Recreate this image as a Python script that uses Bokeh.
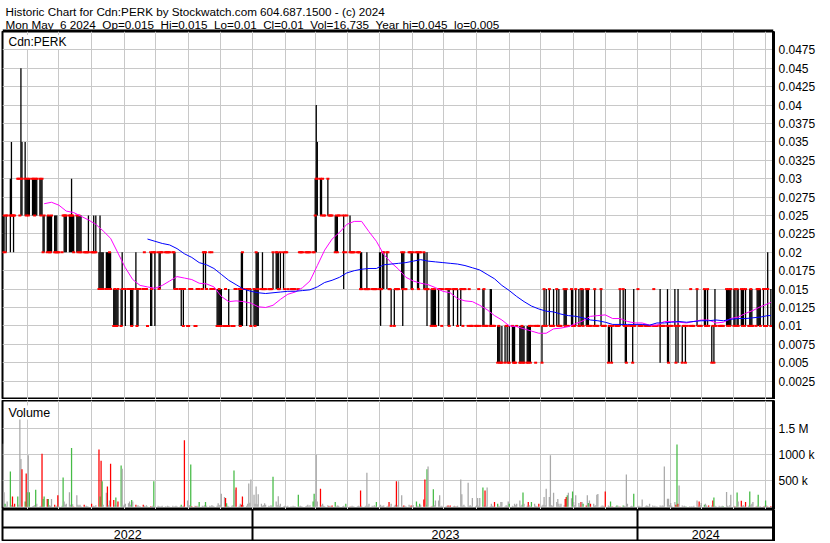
import pandas as pd
from bokeh.plotting import figure
from bokeh.layouts import column
from bokeh.models import (Range1d, FixedTicker, CustomJSTickFormatter, Label, ColumnDataSource, Span,
                          BoxAnnotation)
from bokeh.core.properties import value
from bokeh.embed import file_html
from bokeh.resources import INLINE

# ---------------- data ----------------
FIRST_DAY = "2022-05-09"
LAST_DAY = "2024-05-06"
VIEW_START = "2022-05-08 12:45"
VIEW_END = "2024-05-08 12:00"
PRICE_UNIT = 0.005   # price tokens are in half-cent levels: "lhc" = low, high, close ; one digit = flat day

price_weeks = [
    "454 455 4 455 5", "465 575 5 455 5", "6 6 5 596 576", "576 565 566 565 566", "566 566 565 566 566",
    "566 565 566 454 455", "454 455 454 454 455", "454 454 454 4 4", "4 5 455 455 455", "455 455 465 455 454",
    "455 454 455 454 454", "4 4 4 4 454", "4 4 454 4 454", "343 353 343 343 343", "343 343 343 344 343",
    "232 233 232 232 233", "232 243 3 3 233", "3 3 233 232 233", "343 232 233 3 3", "3 4 3 3 2",
    "244 243 4 4 244", "4 343 344 4 4", "4 4 4 4 4", "4 344 343 3 3", "3 233 3 232 3",
    "2 2 3 3 3", "2 2 3 3 3", "3 344 4 344 3", "4 3 4 3 3", "232 232 233 232 232",
    "2 3 2 2 232", "2 2 2 3 3", "233 232 243 244 3", "233 3 3 3 232", "233 232 244 243 243",
    "3 343 3 3 3", "3 3 3 3 344", "344 344 343 3 344", "344 3 4 4 3", "3 3 3 3 3",
    "3 4 4 4 4", "4 4 4 4 4", "4 4 465 486 576", "566 565 6 5 5", "566 5 5 5 5",
    "454 455 454 5 5", "5 354 5 4 5", "454 4 4 4 4", "4 4 4 343 343", "3 3 343 3 3",
    "3 3 3 3 3", "343 243 3 344 344", "344 4 3 3 232", "232 3 3 3 3", "344 243 344 3 3",
    "4 4 344 343 4", "4 344 343 4 4", "344 343 3 243 3", "232 233 232 233 232", "233 3 3 2 3",
    "3 3 233 232 3", "233 3 3 3 232", "233 3 2 3 3", "2 3 2 2 2", "2 2 2 3 2",
    "232 233 2 2 2", "232 232 2 2 2", "121 122 121 1 121", "121 2 122 1 121", "122 121 121 1 2",
    "121 121 122 121 121", "121 121 122 121 2", "2 1 2 2 2", "121 2 233 2 232", "233 2 2 2 232",
    "233 2 232 2 2", "233 232 233 2 2", "233 232 2 2 233", "232 2 233 233 232", "233 232 233 2 2",
    "2 233 2 2 2", "233 2 2 2 2", "121 122 2 121 2", "2 2 2 2 233", "233 2 132 121 2",
    "2 2 121 232 2", "3 2 2 2 2", "2 2 2 2 2", "2 3 2 2 2", "132 2 2 2 2",
    "132 121 2 2 2", "232 121 2 132 2", "121 2 2 121 2", "2 3 2 2 2", "233 2 2 2 2",
    "233 232 2 233 2", "121 2 121 232 2", "2 2 2 2 2", "233 232 233 232 233", "232 233 2 233 232",
    "233 232 233 2 233", "2 232 233 232 2", "2 233 233 233 232", "233 2 3 2 243",
    "232",
]

# volume in thousands of shares; u = close up, d = close down, n = unchanged
volume_weeks = [
    "1210n 280n 60u 20n 100n", "680u 30n 200d 20n 60d", "200u 40n 1760n 920n 720d", "100u 640d 280u 990n 280u",
    "10n 20n 30n 330u 60n", "10n 20n 1020d 150u 200u", "150d 150u 30n 20n 150n", "40d 5u 20n 220d 10n",
    "20n 565u 100n 40n 60n", "280n 40n 1130u 50n 5d", "220n 40n 20n 40n 10n", "40d 10n 20n 10n 5n",
    "60d 10n 20n 10n 30n", "1100d 200u 885d 490u 40n", "270n 390d 30n 120n 830d", "130d 40n 180u 30n 100d",
    "795u 730n 20n 40n 60n", "70n 100n 40n 130u 100n", "40d 20n 30n 10n 10n", "40d 20n 10n 30n 5u",
    "10d 10n 20n 490u 10n", "20n 10n 5n 10n 20n", "10n 5n 20n 10n 5n", "20n 5n 10n 20n 10n",
    "10n 40u 10n 20n 1280d", "120n 20n 30n 815u 10d", "20n 10d 20n 10n 90u", "20n 10n 30n 90u 20n",
    "20n 10n 30n 20n 10n", "20n 70n 30n 40n 250n", "190n 170d 70u 20n 10n", "20n 30n 700u 330n 370d",
    "20n 60n 40d 200d 30n", "20n 60n 450n 80n 525n", "230n 60n 390n 50n 240n", "60n 20n 30n 70n 40n",
    "20n 10n 30n 20n 580u", "100n 30n 205n 20n 60n", "10n 20n 5n 10n 20n", "10n 5n 20n 10n 10n",
    "230u 10n 20n 10n 5n", "10n 20n 40n 10n 30n", "100u 250u 150n 1000n 100n", "345d 30n 60n 20n 10n",
    "30n 10d 20n 10n 25d", "90u 10n 25n 20n 5n", "10n 20n 5n 60u 10n", "5d 10n 20n 10n 5n",
    "10n 20n 10n 315d 20n", "5n 20n 655n 20n 60n", "20n 10n 30n 10n 90u", "20n 40n 10n 20n 25n",
    "10n 20n 90d 10n 60n", "20n 40n 490d 30n 490n", "220n 10n 25d 20n 10n", "40n 10n 25d 20n 30n",
    "100u 20n 10n 60u 30n", "140d 525d 40n 720u 775n", "5d 20n 335u 30n 120n", "120n 220n 10n 20n 5n",
    "10n 20n 25d 10n 25d", "10n 20n 5d 10n 20n", "525n 240n 20n 40n 10n", "460n 20n 30n 10n 170n",
    "10n 30n 170n 20n 170n", "370u 30n 315d 20n 370n", "10n 60n 20n 10n 90d", "60u 20n 10n 90n 90n",
    "10n 30n 20n 100n 60u", "20n 10n 60n 30n 60n", "120n 20n 40n 275u 60n", "20n 90d 30n 10n 90u",
    "60n 20n 10n 5n 60d", "20n 40n 190n 30n 345n", "190n 990n 30n 20n 270n", "90n 150n 60n 20n 60n",
    "30n 150d 190d 220u 270n", "165n 295u 90n 30n 220n", "75n 20n 90d 90n 60u", "25d 220n 75u 120n 60d",
    "60n 20n 30n 230n 245n", "10n 25n 20n 10n 295d", "25n 10n 100u 10n 5d", "10n 25u 20n 5n 5d",
    "25u 20n 10n 620n 60n", "10n 20n 10n 250u 5n", "10n 20n 5n 10n 140n", "10n 25n 20n 10n 60n",
    "25n 10n 20n 5n 10n", "25n 10n 25n 20n 775n", "155n 155n 30n 75n 20n", "90n 40d 1200u 60d 410n",
    "25n 10n 20n 10n 5u", "10n 5n 10n 5n 20n", "120n 20n 100d 30n 75n", "40u 60n 25n 5n 25d",
    "25n 120d 180u 20n 10n", "20n 5n 10n 20n 10u", "285n 20n 5n 30n 230n", "20n 5d 10n 275u 100n",
    "115d 20n 30n 10n 90d", "20n 295u 30n 60n 90n", "5d 20n 230u 5n 10n", "5d 20n 120u 25n 5d",
    "17d",
]

# weekly (Friday) readings of the two moving averages
ma_short = [
    0.0266, 0.0268, 0.0264, 0.0256, 0.0254, 0.0249, 0.0244, 0.0238, 0.0229, 0.0219,
    0.0199, 0.0179, 0.0163, 0.0155, 0.0153, 0.0151, 0.0155, 0.0161, 0.0167, 0.0165,
    0.0163, 0.0158, 0.0157, 0.0153, 0.0140, 0.0133, 0.0134, 0.0133, 0.0131, 0.0126,
    0.0125, 0.0128, 0.0136, 0.0143, 0.0146, 0.0152, 0.0161, 0.0182, 0.0203, 0.0218,
    0.0227, 0.0238, 0.0242, 0.0242, 0.0228, 0.0215, 0.0197, 0.0186, 0.0177, 0.0166,
    0.0161, 0.0158, 0.0156, 0.0152, 0.0147, 0.0145, 0.0137, 0.0134, 0.0133, 0.0128,
    0.0122, 0.0114, 0.0108, 0.0100, 0.0099, 0.0096, 0.0093, 0.0090, 0.0090, 0.0096,
    0.0097, 0.0099, 0.0103, 0.0107, 0.0113, 0.0114, 0.0115, 0.0110, 0.0110, 0.0106,
    0.0104, 0.0104, 0.0101, 0.0101, 0.0106, 0.0106, 0.0105, 0.0104, 0.0106, 0.0108,
    0.0108, 0.0104, 0.0105, 0.0110, 0.0112, 0.0117, 0.0121, 0.0126, 0.0130,
    0.0132,
]
ma_short_first_week = 6
ma_long = [
    0.0218, 0.0215, 0.0212, 0.0210, 0.0205, 0.0198, 0.0193, 0.0186, 0.0183, 0.0178,
    0.0170, 0.0162, 0.0156, 0.0150, 0.0147, 0.0145, 0.0144, 0.0145, 0.0146, 0.0147,
    0.0147, 0.0148, 0.0149, 0.0153, 0.0159, 0.0162, 0.0166, 0.0172, 0.0175, 0.0177,
    0.0178, 0.0178, 0.0183, 0.0184, 0.0185, 0.0186, 0.0188, 0.0190, 0.0188, 0.0187,
    0.0186, 0.0185, 0.0184, 0.0182, 0.0179, 0.0176, 0.0170, 0.0164, 0.0155, 0.0148,
    0.0140, 0.0133, 0.0127, 0.0123, 0.0120, 0.0119, 0.0116, 0.0114, 0.0113, 0.0111,
    0.0108, 0.0107, 0.0105, 0.0102, 0.0102, 0.0102, 0.0102, 0.0102, 0.0101, 0.0104,
    0.0104, 0.0105, 0.0106, 0.0105, 0.0106, 0.0107, 0.0107, 0.0108, 0.0107, 0.0109,
    0.0110, 0.0110, 0.0111, 0.0112, 0.0114,
    0.0114,
]
ma_long_first_week = 20

price_ticks = [0.0025, 0.005, 0.0075, 0.01, 0.0125, 0.015, 0.0175, 0.02, 0.0225, 0.025,
               0.0275, 0.03, 0.0325, 0.035, 0.0375, 0.04, 0.0425, 0.045, 0.0475]
volume_ticks = [500000, 1000000, 1500000]
volume_tick_labels = {500000: "500 k", 1000000: "1000 k", 1500000: "1.5 M"}
years = ["2022", "2023", "2024"]
year_starts = ["2023-01-01", "2024-01-01"]

title_line1 = "Historic Chart for Cdn:PERK by Stockwatch.com 604.687.1500 - (c) 2024"
title_line2 = "Mon May  6 2024  Op=0.015  Hi=0.015  Lo=0.01  Cl=0.01  Vol=16,735  Year hi=0.045  lo=0.005"
symbol = "Cdn:PERK"

# ---------------- parse ----------------
def ms(t):
    return pd.Timestamp(t).value / 1e6

DAY = 86400000.0
dates = pd.bdate_range(FIRST_DAY, LAST_DAY)
xs = [ms(d) for d in dates]

ptoks = " ".join(price_weeks).split()
n = min(len(xs), len(ptoks))
lo, hi, cl = [], [], []
for t in ptoks[:n]:
    if len(t) == 1:
        a = b = c = int(t)
    else:
        a, b, c = int(t[0]), int(t[1]), int(t[2])
    lo.append(a * PRICE_UNIT); hi.append(b * PRICE_UNIT); cl.append(c * PRICE_UNIT)
px = xs[:n]
bar_src = ColumnDataSource(dict(x=[x for x, a, b in zip(px, lo, hi) if b > a],
                                lo=[a for a, b in zip(lo, hi) if b > a],
                                hi=[b for a, b in zip(lo, hi) if b > a]))
close_src = ColumnDataSource(dict(x=px, c=cl))

COL = {"u": "#46bb46", "d": "#ff0000", "n": "#a9a9a9"}
vtoks = " ".join(volume_weeks).split()
m = min(len(xs), len(vtoks))
vol_src = ColumnDataSource(dict(x=xs[:m], v=[int(t[:-1]) * 1000 for t in vtoks[:m]],
                                color=[COL[t[-1]] for t in vtoks[:m]]))

fridays = [x for d, x in zip(dates, xs) if d.weekday() == 4]
ms_x = fridays[ma_short_first_week - 1:] + [xs[-1]]
ml_x = fridays[ma_long_first_week - 1:] + [xs[-1]]
k1 = min(len(ms_x), len(ma_short)); k2 = min(len(ml_x), len(ma_long))

month_x = [ms(d) for d in pd.date_range("2022-06-01", "2024-05-01", freq="MS")]
x0, x1 = ms(VIEW_START), ms(VIEW_END)
yb_x = [ms(d) for d in year_starts]
bounds = [x0] + yb_x + [x1]
year_mid = [(bounds[i] + bounds[i + 1]) / 2 for i in range(3)]

# ---------------- layout ----------------
FONT = "Liberation Sans"
W = 830
BL, BR = 2, 57
HT, PH, SEP = 31, 368, 1
VH = 109
YH = 32
FT = 2
GRID = "#c8c8c8"
EDGE = W - BR   # right edge of the chart frames, in canvas pixels

xr = Range1d(x0, x1)

def style_right_axis(ax):
    ax.major_tick_in = 0; ax.major_tick_out = 0
    ax.minor_tick_in = 0; ax.minor_tick_out = 0
    ax.axis_line_color = "black"; ax.axis_line_width = 3
    ax.major_label_text_font = FONT
    ax.major_label_text_font_size = "12px"
    ax.major_label_text_color = "black"
    ax.major_label_standoff = 5

def base(height, yr):
    f = figure(width=W, height=height, x_range=xr, y_range=yr,
               x_axis_location=None, y_axis_location="right",
               min_border_left=BL, min_border_right=BR, min_border_top=0, min_border_bottom=0,
               output_backend="svg", toolbar_location=None,
               background_fill_color="white", border_fill_color="white")
    f.outline_line_color = "black"; f.outline_line_width = 2; f.outline_line_alpha = 1
    style_right_axis(f.yaxis[0])
    return f

def strip(height):
    f = figure(width=W, height=height, x_range=Range1d(0, W), y_range=Range1d(0, height),
               x_axis_location=None, y_axis_location=None,
               min_border_left=0, min_border_right=0, min_border_top=0, min_border_bottom=0,
               output_backend="svg", toolbar_location=None,
               background_fill_color="white", border_fill_color="white")
    f.outline_line_color = None
    f.grid.visible = False
    return f

def black_box(f, left, right, bottom, top):
    f.add_layout(BoxAnnotation(left=left, right=right, bottom=bottom, top=top,
                               fill_color="black", fill_alpha=1, line_color=None))

# header with the two title lines
hdr = strip(HT)
NB = "\u00a0"
hdr.add_layout(Label(x=3, y=HT - 11.4, x_units="screen", y_units="screen", text=title_line1,
                     text_baseline="alphabetic", text_font=FONT, text_font_size="11.7px", text_color="black"))
hdr.add_layout(Label(x=3, y=HT - 24.2, x_units="screen", y_units="screen",
                     text=title_line2.replace("  ", " " + NB),
                     text_baseline="alphabetic", text_font=FONT, text_font_size="11.7px", text_color="black"))
black_box(hdr, 0, W, 0, 2)

# price panel
p = base(PH, Range1d(0, 0.05))
p.yaxis.ticker = FixedTicker(ticks=price_ticks)
p.yaxis.formatter = CustomJSTickFormatter(code="return String(Math.round(tick*10000)/10000);")
p.xgrid.ticker = FixedTicker(ticks=month_x)
p.ygrid.ticker = FixedTicker(ticks=price_ticks)
p.xgrid.grid_line_color = GRID; p.ygrid.grid_line_color = GRID

p.segment(x0="x", y0="lo", x1="x", y1="hi", source=bar_src, line_color="black", line_width=1.3)
p.scatter(x="x", y="c", source=close_src, marker="dash", size=3, line_color="#ff0000", line_width=2)
p.line(ms_x[:k1], ma_short[:k1], line_color="#ff00ff", line_width=1)
p.line(ml_x[:k2], ma_long[:k2], line_color="#0000ff", line_width=1)

p.add_layout(Label(x=6, y=PH - 3.5, x_units="screen", y_units="screen", text=symbol,
                   text_baseline="top", text_font=FONT, text_font_size="12px", text_color="black",
                   background_fill_color="white"))

# thin separator between the price and the volume panels
sep = strip(SEP)
black_box(sep, 0, BL + 1, 0, SEP)
black_box(sep, EDGE - 1.5, W, 0, SEP)

# volume panel
v = base(VH, Range1d(-52000, 2044000))
v.yaxis.ticker = FixedTicker(ticks=volume_ticks)
v.yaxis.major_label_overrides = volume_tick_labels
v.xgrid.ticker = FixedTicker(ticks=month_x)
v.ygrid.ticker = FixedTicker(ticks=volume_ticks)
v.xgrid.grid_line_color = GRID; v.ygrid.grid_line_color = GRID
v.vbar(x="x", top="v", bottom=0, width=DAY * 1.2, source=vol_src, fill_color="color", line_color=None)
v.add_layout(Label(x=6, y=VH - 5, x_units="screen", y_units="screen", text="Volume",
                   text_baseline="top", text_font=FONT, text_font_size="12.5px", text_color="black",
                   background_fill_color="white"))

# year band
yb = base(YH, Range1d(0, 1))
yb.yaxis.ticker = FixedTicker(ticks=[])
yb.xgrid.ticker = FixedTicker(ticks=yb_x)
yb.ygrid.ticker = FixedTicker(ticks=[0.43])
for g in (yb.xgrid, yb.ygrid):
    g.grid_line_color = "black"; g.grid_line_width = 2
yb.text(x=year_mid, y=[0.21] * 3, text=years, text_align="center", text_baseline="middle",
        text_font=value(FONT), text_font_size="12.5px", text_color="black")

# bottom rule
ft = strip(FT)
black_box(ft, 0, W, 1, 2)

layout = column(hdr, p, sep, v, yb, ft, spacing=0)
open("out.html", "w").write(file_html(layout, INLINE))
